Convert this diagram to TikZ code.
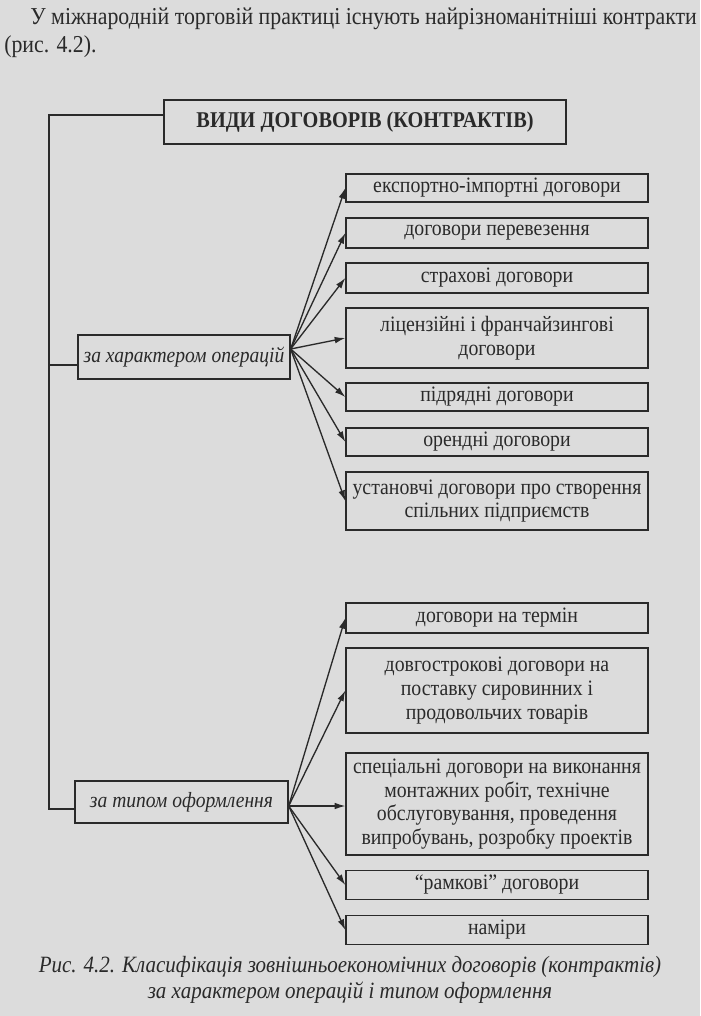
\documentclass[tikz,border=0pt]{standalone}
\usepackage{fontspec}
\setmainfont{Liberation Serif}[FakeStretch=0.9]
\usetikzlibrary{arrows.meta}
\definecolor{scanpaper}{HTML}{DCDCDC}
\definecolor{scanink}{HTML}{2A2A2A}
\tikzset{
    itembox/.style={
        draw=scanink, line width=1pt, text=scanink, inner sep=0pt,
        minimum width=302*0.75pt, align=center,
        font=\fontsize{16.5}{17.8}\selectfont
    },
    branchbox/.style={
        draw=scanink, line width=1pt, text=scanink, inner sep=0pt,
        font=\fontsize{16.3}{18}\selectfont\itshape
    },
    pointer/.style={
        draw=scanink, line width=1pt, -{Latex[length=8pt,width=5pt]}
    }
}

\begin{document}
\begin{tikzpicture}[ x=0.75pt, y=-0.75pt ]
	
		\fill[ scanpaper ] (0,0) rectangle (700,1016);
		\useasboundingbox (0,0) rectangle (700,1016);
		
		\def\colx{497}
		\def\trunkx{49}
		
		% text above the figure
		\node[ anchor=west, inner sep=0pt, text=scanink, font=\fontsize{18.2}{20}\selectfont ] (intro) at (30,19) {У міжнародній торговій практиці існують найрізноманітніші контракти};
		
		\node[ anchor=west, inner sep=0pt, text=scanink, font=\fontsize{18.2}{20}\selectfont ] (introref) at (4,47) {(рис. 4.2).};
		
		\node[ draw=scanink, line width=1pt, text=scanink, inner sep=0pt, minimum width=402*0.75pt, minimum height=44*0.75pt, font=\fontsize{16.9}{18}\selectfont\bfseries ] (kinds) at (365,122) {ВИДИ ДОГОВОРІВ (КОНТРАКТІВ)};
		
		\node[ branchbox, minimum width=212*0.75pt, minimum height=44*0.75pt ] (ops) at (184,357) {за характером операцій};
		
		\node[ branchbox, minimum width=213*0.75pt, minimum height=42*0.75pt ] (form) at (181.5,802) {за типом оформлення};
		
		% by the kind of operation
		\node[ itembox, minimum height=28*0.75pt ] (export) at (\colx,188) {експортно-імпортні договори};
		\node[ itembox, minimum height=30*0.75pt ] (carriage) at (\colx,233) {договори перевезення};
		\node[ itembox, minimum height=30*0.75pt ] (insurance) at (\colx,278) {страхові договори};
		\node[ itembox, minimum height=60*0.75pt ] (licence) at (\colx,338) {ліцензійні і франчайзингові\\ договори};
		\node[ itembox, minimum height=28*0.75pt ] (contract) at (\colx,397) {підрядні договори};
		\node[ itembox, minimum height=28*0.75pt ] (lease) at (\colx,442) {орендні договори};
		\node[ itembox, minimum height=58*0.75pt ] (venture) at (\colx,501) {установчі договори про створення\\ спільних підприємств};
		
		% by the form
		\node[ itembox, minimum height=30*0.75pt ] (term) at (\colx,618) {договори на термін};
		\node[ itembox, minimum height=85*0.75pt ] (supply) at (\colx,690.5) {довгострокові договори на\\ поставку сировинних і\\ продовольчих товарів};
		\node[ itembox, minimum height=102*0.75pt ] (special) at (\colx,804) {спеціальні договори на виконання\\ монтажних робіт, технічне\\ обслуговування, проведення\\ випробувань, розробку проектів};
		\node[ itembox, minimum height=29*0.75pt ] (frame) at (\colx,885) {“рамкові” договори};
		\node[ itembox, minimum height=29*0.75pt ] (intent) at (\colx,930) {наміри};
		
		% trunk on the left
		\coordinate (trunktop) at (\trunkx,115);
		\coordinate (trunkops) at (\trunkx,365);
		\coordinate (trunkbot) at (\trunkx,809);
		
		\draw[ draw=scanink, line width=1pt ] (kinds.west |- trunktop) -- (trunktop) -- (trunkbot) -- (form.west |- trunkbot);
		
		\draw[ draw=scanink, line width=1pt ] (trunkops) -- (ops.west |- trunkops);
		
		\coordinate (opsout) at ([yshift=6pt]ops.east);
		\coordinate (formout) at ([yshift=-3pt]form.east);
		
		\draw[ pointer ] (opsout) -- (export.west);
		\draw[ pointer ] (opsout) -- (carriage.west);
		\draw[ pointer ] (opsout) -- (insurance.west);
		\draw[ pointer ] (opsout) -- (licence.west);
		\draw[ pointer ] (opsout) -- (contract.west);
		\draw[ pointer ] (opsout) -- (lease.west);
		\draw[ pointer ] (opsout) -- (venture.west);
		
		\draw[ pointer ] (formout) -- (term.west);
		\draw[ pointer ] (formout) -- (supply.west);
		\draw[ pointer ] (formout) -- (formout -| special.west);
		\draw[ pointer ] (formout) -- (frame.west);
		\draw[ pointer ] (formout) -- (intent.west);
		
		% caption
		\node[ align=center, inner sep=0pt, text=scanink, font=\fontsize{17.5}{19}\selectfont\itshape ] (caption) at (350,980) {Рис. 4.2. Класифікація зовнішньоекономічних договорів (контрактів)\\ за характером операцій і типом оформлення};
	
	\end{tikzpicture}
\end{document}
